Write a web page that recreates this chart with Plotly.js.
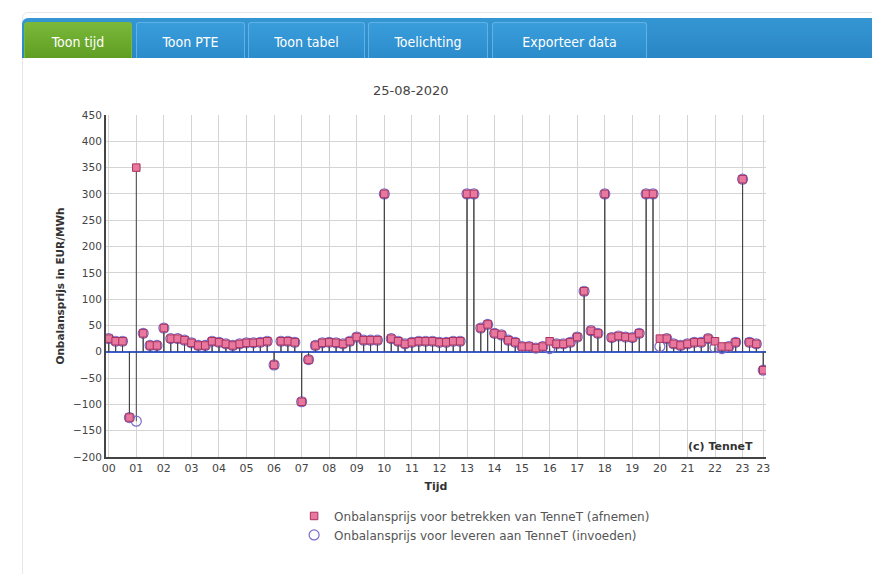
<!DOCTYPE html>
<html>
<head>
<meta charset="utf-8">
<script src="https://cdn.plot.ly/plotly-3.0.1.min.js"></script>
<style>
  html, body { margin:0; padding:0; background:#ffffff; width:872px; height:574px; overflow:hidden; }
  #frame { position:absolute; left:22px; top:12px; width:860px; height:580px; border:1px solid #e4e8ec; border-radius:6px 0 0 0; }
  #bar { position:absolute; left:22px; top:18px; width:850px; height:40px; background:linear-gradient(#3596d4,#2a86c4); border-radius:6px 0 0 0; }
  .tab { position:absolute; top:22px; height:36px; line-height:38px; color:#fff; text-align:center;
         font-family:"Liberation Sans Narrow","DejaVu Sans Condensed",sans-serif; font-size:14px;
         background:linear-gradient(#3a9ddb,#2b8ccb); border:1px solid #5fb2e3; border-bottom:none; border-radius:3px 3px 0 0; box-sizing:border-box; }
  .tab.on { background:linear-gradient(#7ab83a,#5f9e22); border-color:#7ab83a; }
  #plot { position:absolute; left:0; top:0; width:872px; height:574px; }
</style>
</head>
<body>
<div id="frame"></div>
<div id="bar"></div>
<div class="tab on" style="left:24px;width:108px;">Toon tijd</div>
<div class="tab" style="left:136px;width:109px;">Toon PTE</div>
<div class="tab" style="left:248px;width:117px;">Toon tabel</div>
<div class="tab" style="left:368px;width:120px;">Toelichting</div>
<div class="tab" style="left:492px;width:155px;">Exporteer data</div>
<div id="plot"></div>
<script>
// PTE index (quarter hours) for 25-08-2020
const pte = Array.from({length: 96}, (_, i) => i + 1);
const hours = pte.map(p => (p - 1) / 4);

// Onbalansprijs voor betrekken van TenneT (afnemen), EUR/MWh
const afnemen = [
  25, 20, 20, -125, 350, 35, 12, 12,
  45, 25, 25, 22, 17, 12, 12, 20,
  18, 15, 12, 15, 17, 17, 18, 20,
  -25, 20, 20, 18, -95, -15, 12, 17,
  18, 17, 15, 20, 28, 22, 22, 22,
  300, 25, 20, 15, 18, 20, 20, 20,
  18, 18, 20, 20, 300, 300, 45, 52,
  35, 32, 22, 18, 10, 10, 7, 10,
  20, 15, 15, 18, 28, 115, 40, 35,
  300, 27, 30, 28, 27, 35, 300, 300,
  25, 25, 15, 12, 15, 18, 18, 25,
  20, 10, 10, 18, 328, 18, 15, -35
];
// Onbalansprijs voor leveren aan TenneT (invoeden), EUR/MWh
const invoeden = [
  25, 20, 20, -125, -132, 35, 12, 12,
  45, 25, 25, 22, 17, 12, 12, 20,
  18, 15, 12, 15, 17, 17, 18, 20,
  -25, 20, 20, 18, -95, -15, 12, 17,
  18, 17, 15, 20, 28, 22, 22, 22,
  300, 25, 20, 15, 18, 20, 20, 20,
  18, 18, 20, 20, 300, 300, 45, 52,
  35, 32, 22, 18, 10, 10, 7, 10,
  6, 15, 15, 18, 28, 115, 40, 35,
  300, 27, 30, 28, 27, 35, 300, 300,
  10, 25, 15, 12, 15, 18, 18, 25,
  8, 6, 10, 18, 328, 18, 15, -35
];

const tickVals = [0,1,2,3,4,5,6,7,8,9,10,11,12,13,14,15,16,17,18,19,20,21,22,23,23.75];
const tickText = ["00","01","02","03","04","05","06","07","08","09","10","11","12","13","14","15","16","17","18","19","20","21","22","23","23"];

const legendNames = ["Onbalansprijs voor betrekken van TenneT (afnemen)", "Onbalansprijs voor leveren aan TenneT (invoeden)"];

function stems(vals) {
  return {
    type: 'data', symmetric: false, visible: true,
    array: vals.map(v => v < 0 ? -v : 0),
    arrayminus: vals.map(v => v > 0 ? v : 0),
    width: 0, thickness: 1, color: '#444'
  };
}

// invoeden drawn first so the afnemen squares sit on top
const traces = [
  {
    x: hours, y: invoeden, type: 'scatter', mode: 'markers', name: legendNames[1],
    error_y: stems(invoeden),
    marker: { symbol: 'circle-open', size: 10, color: '#7a6cc8', line: { color: '#7a6cc8', width: 1.2 } }
  },
  {
    x: hours, y: afnemen, type: 'scatter', mode: 'markers', name: legendNames[0],
    error_y: stems(afnemen),
    marker: { symbol: 'square', size: 7.5, color: '#e8789e', line: { color: '#a8325f', width: 1 } }
  }
];

const fontFam = '"DejaVu Sans", Verdana, sans-serif';
const layout = {
  width: 872, height: 574,
  margin: { l: 106, r: 106, t: 115, b: 117 },
  paper_bgcolor: 'rgba(0,0,0,0)', plot_bgcolor: '#ffffff',
  font: { family: fontFam, size: 11, color: '#333' },
  title: { text: '25-08-2020', x: 0.471, xanchor: 'center', xref: 'container', y: 1 - 90/574, yanchor: 'middle', yref: 'container',
           font: { family: fontFam, size: 13, color: '#444' } },
  showlegend: true,
  legend: { x: 0.285, xanchor: 'left', y: -0.13, yanchor: 'top', orientation: 'v', traceorder: 'reversed', tracegroupgap: 0,
            font: { family: fontFam, size: 12, color: '#555' }, bgcolor: 'rgba(0,0,0,0)', itemwidth: 30 },
  xaxis: {
    range: [-0.1, 23.85], tickmode: 'array', tickvals: tickVals, ticktext: tickText,
    showgrid: true, gridcolor: '#d4d4d4', gridwidth: 1,
    showline: true, linecolor: '#444', linewidth: 2, mirror: false,
    ticks: '', tickfont: { family: fontFam, size: 11, color: '#444' },
    zeroline: false,
    title: { text: '<b>Tijd</b>', standoff: 8, font: { family: fontFam, size: 11, color: '#333' } }
  },
  yaxis: {
    range: [-200, 450], dtick: 50, tick0: 0,
    showgrid: true, gridcolor: '#d4d4d4', gridwidth: 1,
    showline: true, linecolor: '#444', linewidth: 2,
    ticks: '', tickfont: { family: fontFam, size: 10.5, color: '#444' },
    zeroline: true, zerolinecolor: '#3a5cc8', zerolinewidth: 1.5,
    title: { text: '<b>Onbalansprijs in EUR/MWh</b>', standoff: 6, font: { family: fontFam, size: 10.5, color: '#333' } }
  },
  annotations: [
    { text: '<b>(c) TenneT</b>', xref: 'paper', yref: 'paper', x: 0.983, y: 0.032, xanchor: 'right', yanchor: 'middle',
      showarrow: false, font: { family: fontFam, size: 11, color: '#333' } }
  ]
};

Plotly.newPlot('plot', traces, layout, { displayModeBar: false, staticPlot: true });
</script>
</body>
</html>
